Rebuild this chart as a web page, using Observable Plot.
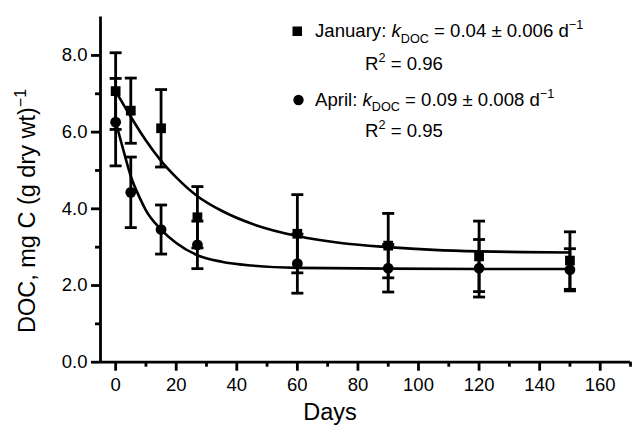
<!DOCTYPE html>
<html>
<head>
<meta charset="utf-8">
<script src="https://cdn.jsdelivr.net/npm/d3@7"></script>
<script src="https://cdn.jsdelivr.net/npm/@observablehq/plot@0.6"></script>
<style>
  html, body { margin: 0; padding: 0; background: #fff; }
  svg { font-family: "Liberation Sans", Arial, Helvetica, sans-serif; }
</style>
</head>
<body>
<div id="chart"></div>
<script>
// ---- data ----
const days = [0, 5, 15, 27, 60, 90, 120, 150];
const janDOC = [7.07, 6.56, 6.10, 3.78, 3.35, 3.04, 2.76, 2.65];
const janErr = [1.00, 0.85, 1.01, 0.80, 1.02, 0.84, 0.92, 0.75];
const aprDOC = [6.26, 4.43, 3.46, 3.06, 2.57, 2.45, 2.45, 2.41];
const aprErr = [1.14, 0.92, 0.64, 0.62, 0.77, 0.62, 0.75, 0.55];

// fitted curves
const janFitDays = [0, 5, 10, 15, 20, 27, 35, 45, 60, 75, 90, 105, 120, 135, 150];
const janFitDOC  = [7.07, 6.40, 5.78, 5.25, 4.82, 4.33, 3.95, 3.61, 3.29, 3.10, 3.00, 2.93, 2.89, 2.87, 2.86];
const aprFitDays = [0, 3, 5, 8, 10, 15, 20, 27, 35, 45, 60, 90, 120, 150];
const aprFitDOC  = [6.27, 5.40, 4.85, 4.28, 3.96, 3.46, 3.11, 2.79, 2.62, 2.52, 2.46, 2.44, 2.43, 2.43];

const xTicks = [0, 20, 40, 60, 80, 100, 120, 140, 160];
const xMinorTicks = [10, 30, 50, 70, 90, 110, 130, 150, 170];
const yTicks = [0, 2, 4, 6, 8];
const yMinorTicks = [1, 3, 5, 7];

const xLabel = "Days";
const yLabelMain = "DOC, mg C (g dry wt)";
const yLabelSup = "\u22121";

const legendJan = [{t: "January: "}, {t: "k", i: true}, {t: "DOC", sub: true}, {t: " = 0.04 \u00b1 0.006 d"}, {t: "\u22121", sup: true}];
const legendJanR2 = [{t: "R"}, {t: "2", sup: true}, {t: " = 0.96"}];
const legendApr = [{t: "April: "}, {t: "k", i: true}, {t: "DOC", sub: true}, {t: " = 0.09 \u00b1 0.008 d"}, {t: "\u22121", sup: true}];
const legendAprR2 = [{t: "R"}, {t: "2", sup: true}, {t: " = 0.95"}];

// ---- tables ----
const jan = days.map((d, i) => ({day: d, v: janDOC[i], e: janErr[i]}));
const apr = days.map((d, i) => ({day: d, v: aprDOC[i], e: aprErr[i]}));
const janFit = janFitDays.map((d, i) => ({day: d, v: janFitDOC[i]}));
const aprFit = aprFitDays.map((d, i) => ({day: d, v: aprFitDOC[i]}));
const all = jan.concat(apr);

const cap = { draw(ctx) { ctx.moveTo(-6, 0); ctx.lineTo(6, 0); } };
const SW = 2.8;

const svg = Plot.plot({
  width: 635,
  height: 428,
  marginLeft: 100,
  marginRight: 5,
  marginTop: 16.6,
  marginBottom: 66.3,
  x: {domain: [-5, 170]},
  y: {domain: [0, 9]},
  style: {fontFamily: "'Liberation Sans', Arial, sans-serif", fontSize: "18px", color: "black", background: "white"},
  marks: [
    // axes
    Plot.axisY({ticks: yTicks, tickFormat: d3.format(".1f"), tickSize: 9, tickPadding: 4, strokeWidth: SW, fontSize: 18.5, label: null}),
    Plot.axisY({ticks: yMinorTicks, tickFormat: () => "", tickSize: 5, strokeWidth: SW, label: null}),
    Plot.axisX({ticks: xTicks, tickFormat: d3.format("d"), tickSize: 9, tickPadding: 7, strokeWidth: SW, fontSize: 18.5, label: null}),
    Plot.axisX({ticks: xMinorTicks, tickFormat: () => "", tickSize: 5, strokeWidth: SW, label: null}),
    Plot.ruleX([-5], {strokeWidth: SW}),
    Plot.ruleY([0], {strokeWidth: SW}),
    // error bars
    Plot.ruleX(all, {x: "day", y1: d => d.v - d.e, y2: d => d.v + d.e, strokeWidth: SW}),
    Plot.dot(all, {x: "day", y: d => d.v + d.e, symbol: cap, stroke: "black", fill: "none", strokeWidth: SW}),
    Plot.dot(all, {x: "day", y: d => d.v - d.e, symbol: cap, stroke: "black", fill: "none", strokeWidth: SW}),
    // fitted curves
    Plot.line(janFit, {x: "day", y: "v", curve: "monotone-x", strokeWidth: 2.6}),
    Plot.line(aprFit, {x: "day", y: "v", curve: "monotone-x", strokeWidth: 2.6}),
    // points
    Plot.dot(jan, {x: "day", y: "v", symbol: "square", r: 5.5, fill: "black"}),
    Plot.dot(apr, {x: "day", y: "v", symbol: "circle", r: 5.4, fill: "black"})
  ]
});

document.getElementById("chart").appendChild(svg);

// ---- text overlays (axis titles and legend) ----
const s = d3.select(svg);
const font = "'Liberation Sans', Arial, sans-serif";

function richText(x, y, parts, size) {
  const t = s.append("text").attr("x", x).attr("y", y).attr("font-size", size)
    .attr("font-family", font).attr("fill", "black").attr("text-anchor", "start");
  let shift = 0;
  parts.forEach(p => {
    const ts = t.append("tspan").text(p.t);
    const target = p.sub ? size * 0.28 : p.sup ? -size * 0.42 : 0;
    if (target - shift !== 0) ts.attr("dy", target - shift);
    shift = target;
    if (p.sub || p.sup) ts.attr("font-size", size * 0.68);
    if (p.i) ts.attr("font-style", "italic");
  });
  return t;
}

// x label
s.append("text").attr("x", 330).attr("y", 420).attr("text-anchor", "middle")
  .attr("font-size", 23.5).attr("font-family", font).text(xLabel);

// y label
const yl = s.append("text").attr("transform", "translate(35,211) rotate(-90)")
  .attr("text-anchor", "middle").attr("font-size", 23.5).attr("font-family", font);
yl.append("tspan").text(yLabelMain);
yl.append("tspan").attr("dy", -9).attr("font-size", 16).text(yLabelSup);

// legend
s.append("rect").attr("x", 292.5).attr("y", 26.5).attr("width", 9.5).attr("height", 9.5).attr("fill", "black");
richText(315, 37.3, legendJan, 18.6);
richText(365, 70, legendJanR2, 18.6);
s.append("circle").attr("cx", 298.5).attr("cy", 100).attr("r", 5.2).attr("fill", "black");
richText(315, 106, legendApr, 18.6);
richText(365, 137, legendAprR2, 18.6);
</script>
</body>
</html>
